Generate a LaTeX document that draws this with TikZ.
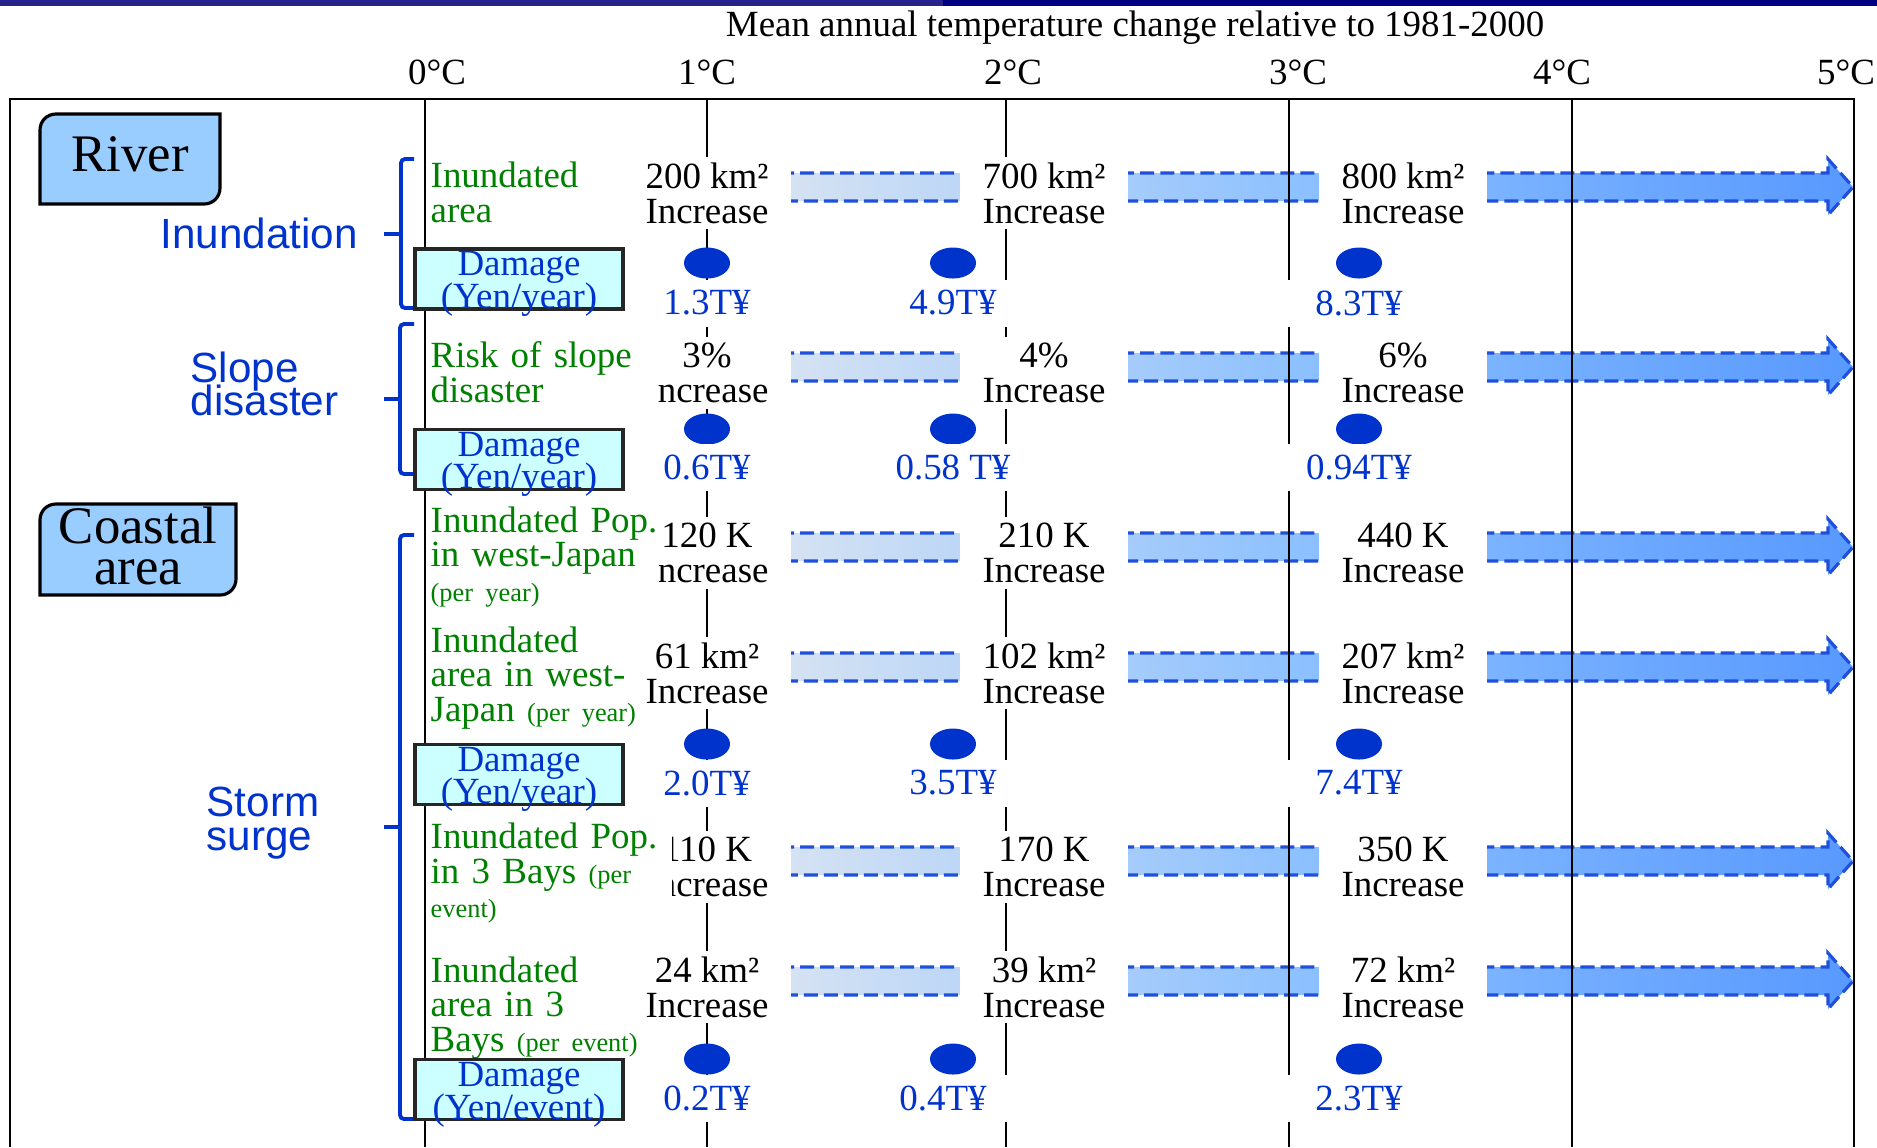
\documentclass[tikz,border=0pt]{standalone}
\usepackage{fontspec}
\setmainfont{Liberation Serif}
\newfontfamily\sansfam{Liberation Sans}
\usepackage{xcolor}
\usepackage{tikz}
\usetikzlibrary{shapes.geometric}
\definecolor{barLeft}{HTML}{24248C}
\definecolor{barRight}{HTML}{000080}
\definecolor{riskBlue}{HTML}{0033CC}
\definecolor{itemGreen}{HTML}{008000}
\definecolor{dmgFill}{HTML}{CCFFFF}
\definecolor{catFill}{HTML}{99CCFF}
\definecolor{fadeLight}{HTML}{D9E4F2}
\definecolor{fadeMid}{HTML}{8CC0FF}
\definecolor{fadeDark}{HTML}{5899FF}
\definecolor{dashBlue}{HTML}{1F50DC}
\newcommand{\mainsz}{\fontsize{10.5pt}{9.9pt}\selectfont\lineskiplimit=-\maxdimen}
\newcommand{\dmgsz}{\fontsize{10.5pt}{9.3pt}\selectfont\lineskiplimit=-\maxdimen}
\newcommand{\notesz}{\fontsize{7.5pt}{9.9pt}\selectfont}
\newcommand{\catsz}{\fontsize{15pt}{11.9pt}\selectfont\lineskiplimit=-\maxdimen}
\newcommand{\sanssz}{\sansfam\fontsize{12pt}{9.6pt}\selectfont\lineskiplimit=-\maxdimen}

\begin{document}
\begin{tikzpicture}[x=0.01cm, y=-0.01cm, font=\mainsz,
  rule/.style={line width=0.8pt},
  trend/.style={left color=fadeLight, right color=fadeDark, middle color=fadeMid,
    draw=dashBlue, line width=0.9pt, dash pattern=on 0.14cm off 0.06cm},
  val/.style={fill=white, align=center, minimum width=1.67cm, minimum height=0.72cm, inner sep=0pt},
  cost/.style={fill=white, text=riskBlue, minimum width=1.67cm, minimum height=0.47cm, inner sep=0pt},
  dot/.style={ellipse, fill=riskBlue, minimum width=0.46cm, minimum height=0.31cm, inner sep=0pt},
  itemlabel/.style={anchor=west, align=left, fill=white, text=itemGreen, inner sep=0.02cm, text width=#1},
  dmgbox/.style={draw=black!85, line width=0.9pt, fill=dmgFill, minimum width=2.08cm,
    minimum height=0.60cm, inner sep=0pt},
  dmgtext/.style={text=riskBlue, align=center, font=\dmgsz, inner sep=0pt},
  catbox/.style={draw=black, line width=0.9pt, fill=catFill},
  cat/.style={font=\catsz, align=center},
  group/.style={font=\sanssz, text=riskBlue, align=left, inner sep=0pt},
  brace/.style={draw=riskBlue, line width=1.1pt, rounded corners=0.04cm}]
\useasboundingbox (0,0) rectangle (1877,1147);
% top bar
\fill[barLeft] (0,0) rectangle (943,6);
\fill[barRight] (943,0) rectangle (1877,6);
% trend arrows
\draw[trend] (760,173) -- ++(1068,0) -- ++(0,-14) -- ++(25,28) -- ++(-25,28) -- ++(0,-14) -- ++(-1068,0);
\draw[trend] (760,353) -- ++(1068,0) -- ++(0,-14) -- ++(25,28) -- ++(-25,28) -- ++(0,-14) -- ++(-1068,0);
\draw[trend] (760,533) -- ++(1068,0) -- ++(0,-14) -- ++(25,28) -- ++(-25,28) -- ++(0,-14) -- ++(-1068,0);
\draw[trend] (760,653) -- ++(1068,0) -- ++(0,-14) -- ++(25,28) -- ++(-25,28) -- ++(0,-14) -- ++(-1068,0);
\draw[trend] (760,847) -- ++(1068,0) -- ++(0,-14) -- ++(25,28) -- ++(-25,28) -- ++(0,-14) -- ++(-1068,0);
\draw[trend] (760,967) -- ++(1068,0) -- ++(0,-14) -- ++(25,28) -- ++(-25,28) -- ++(0,-14) -- ++(-1068,0);
% frame and degree lines
\draw[rule] (10,1147) -- (10,99) -- (1854,99) -- (1854,1147);
\draw[rule] (425,99) -- (425,1147);
\draw[rule] (707,99) -- (707,1147);
\draw[rule] (1006,99) -- (1006,1147);
\draw[rule] (1289,99) -- (1289,1147);
\draw[rule] (1572,99) -- (1572,1147);
% header
\node (title) at (1135,28) {Mean annual temperature change relative to 1981-2000};
\node (t0) at (437,72) {0°C};
\node (t1) at (707,72) {1°C};
\node (t2) at (1013,72) {2°C};
\node (t3) at (1298,72) {3°C};
\node (t4) at (1562,72) {4°C};
\node (t5) at (1846,72) {5°C};
% river : inundation
\node[val] (vA1) at (707,193) {200 km²\\Increase};
\node[val] (vA2) at (1044,193) {700 km²\\Increase};
\node[val] (vA3) at (1403,193) {800 km²\\Increase};
\node[dot] (dA1) at (707,263) {};
\node[dot] (dA2) at (953,263) {};
\node[dot] (dA3) at (1359,263) {};
\node[cost] (cA1) at (707,303) {1.3T¥};
\node[cost] (cA2) at (953,303) {4.9T¥};
\node[cost] (cA3) at (1359,303) {8.3T¥};
% river : slope disaster
\node[val] (vB1) at (707,373) {3\%\\Increase};
\node[val] (vB2) at (1044,373) {4\%\\Increase};
\node[val] (vB3) at (1403,373) {6\%\\Increase};
\node[dot] (dB1) at (707,429) {};
\node[dot] (dB2) at (953,429) {};
\node[dot] (dB3) at (1359,429) {};
\node[cost] (cB1) at (707,467) {0.6T¥};
\node[cost] (cB2) at (953,467) {0.58 T¥};
\node[cost] (cB3) at (1359,467) {0.94T¥};
% coastal area : storm surge
\node[val] (vC1) at (707,553) {120 K\\Increase};
\node[val] (vC2) at (1044,553) {210 K\\Increase};
\node[val] (vC3) at (1403,553) {440 K\\Increase};
\node[val] (vD1) at (707,673) {61 km²\\Increase};
\node[val] (vD2) at (1044,673) {102 km²\\Increase};
\node[val] (vD3) at (1403,673) {207 km²\\Increase};
\node[dot] (dD1) at (707,744) {};
\node[dot] (dD2) at (953,744) {};
\node[dot] (dD3) at (1359,744) {};
\node[cost] (cD1) at (707,783) {2.0T¥};
\node[cost] (cD2) at (953,783) {3.5T¥};
\node[cost] (cD3) at (1359,783) {7.4T¥};
\node[val] (vE1) at (707,867) {110 K\\Increase};
\node[val] (vE2) at (1044,867) {170 K\\Increase};
\node[val] (vE3) at (1403,867) {350 K\\Increase};
\node[val] (vF1) at (707,987) {24 km²\\Increase};
\node[val] (vF2) at (1044,987) {39 km²\\Increase};
\node[val] (vF3) at (1403,987) {72 km²\\Increase};
\node[dot] (dF1) at (707,1059) {};
\node[dot] (dF2) at (953,1059) {};
\node[dot] (dF3) at (1359,1059) {};
\node[cost] (cF1) at (707,1098) {0.2T¥};
\node[cost] (cF2) at (943,1098) {0.4T¥};
\node[cost] (cF3) at (1359,1098) {2.3T¥};
% item labels
\node[itemlabel=2.05cm] (lA) at (428,192) {Inundated\\area};
\node[itemlabel=2.24cm] (lB) at (428,372) {\mbox{Risk of slope}\\disaster};
\node[itemlabel=2.26cm] (lC) at (428,557) {\mbox{Inundated Pop.}\\\mbox{in west-Japan}\\\mbox{\notesz (per year)}};
\node[itemlabel=2.05cm] (lD) at (428,678) {Inundated\\\mbox{area in west-}\\\mbox{Japan {\notesz (per year)}}};
\node[itemlabel=2.39cm] (lE) at (428,873) {\mbox{Inundated Pop.}\\\mbox{in 3 Bays {\notesz (per}}\\\mbox{\notesz event)}};
\node[itemlabel=2.05cm] (lF) at (428,1008) {Inundated\\\mbox{area in 3}\\\mbox{Bays {\notesz (per event)}}};
% braces
\draw[brace] (414,159) -- (401,159) -- (401,308) -- (414,308);
\draw[brace] (401,234) -- (384,234);
\draw[brace] (414,324) -- (400,324) -- (400,474) -- (414,474);
\draw[brace] (400,399) -- (384,399);
\draw[brace] (414,535) -- (400,535) -- (400,1119) -- (414,1119);
\draw[brace] (400,827) -- (384,827);
% damage boxes
\node[dmgbox] (dmgA) at (519,279) {};
\node[dmgtext] (dmgAt) at (519,284) {Damage\\(Yen/year)};
\node[dmgbox] (dmgB) at (519,459.5) {};
\node[dmgtext] (dmgBt) at (519,464.5) {Damage\\(Yen/year)};
\node[dmgbox] (dmgD) at (519,774.5) {};
\node[dmgtext] (dmgDt) at (519,779.5) {Damage\\(Yen/year)};
\node[dmgbox] (dmgF) at (519,1089.5) {};
\node[dmgtext] (dmgFt) at (519,1094.5) {Damage\\(Yen/event)};
% categories
\draw[catbox] (56,114) -- (220,114) -- (220,188) .. controls (220,197) and (213,204) .. (204,204)
  -- (40,204) -- (40,130) .. controls (40,121) and (47,114) .. (56,114) -- cycle;
\node[cat] (river) at (130,154) {River};
\draw[catbox] (56,504) -- (236,504) -- (236,579) .. controls (236,588) and (229,595) .. (220,595)
  -- (40,595) -- (40,520) .. controls (40,511) and (47,504) .. (56,504) -- cycle;
\node[cat] (coast) at (138,546) {Coastal\\area};
\node[group] (inund) at (259,233) {Inundation};
\node[group, anchor=west] (slope) at (190,384) {Slope\\disaster};
\node[group, anchor=west] (storm) at (206,823) {Storm\\surge};
\end{tikzpicture}
\end{document}
